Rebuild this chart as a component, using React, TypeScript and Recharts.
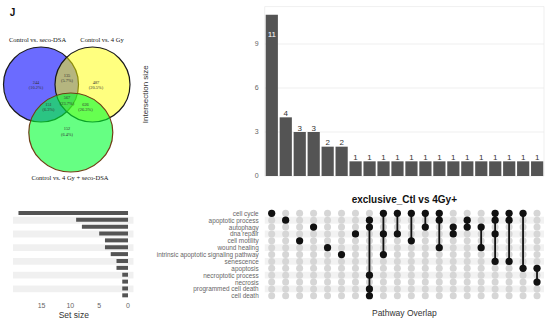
import React from 'react';
import {
  ScatterChart,
  Scatter,
  XAxis,
  YAxis,
  BarChart,
  Bar,
  CartesianGrid,
  LabelList,
  ReferenceArea,
} from 'recharts';

// ---- data ----
const pathways = [
  'cell cycle',
  'apoptotic process',
  'autophagy',
  'dna repair',
  'cell motility',
  'wound healing',
  'intrinsic apoptotic signaling pathway',
  'senescence',
  'apoptosis',
  'necroptotic process',
  'necrosis',
  'programmed cell death',
  'cell death',
];
const setSizes = [19, 9, 8, 5, 4, 4, 3, 2, 2, 1, 1, 1, 1];

const intersectionSizes = [11, 4, 3, 3, 2, 2, 1, 1, 1, 1, 1, 1, 1, 1, 1, 1, 1, 1, 1, 1];
const intersectionMembers = [
  ['cell cycle'],
  ['apoptotic process'],
  ['cell motility'],
  ['autophagy'],
  ['wound healing'],
  ['intrinsic apoptotic signaling pathway'],
  ['dna repair'],
  ['apoptotic process', 'autophagy', 'necroptotic process', 'programmed cell death', 'cell death'],
  ['cell cycle', 'dna repair', 'intrinsic apoptotic signaling pathway'],
  ['cell cycle', 'dna repair'],
  ['cell cycle', 'cell motility'],
  ['cell cycle', 'autophagy'],
  ['cell cycle', 'apoptotic process', 'wound healing'],
  ['autophagy', 'dna repair'],
  ['apoptotic process', 'autophagy'],
  ['autophagy', 'wound healing'],
  ['cell cycle', 'apoptotic process', 'dna repair', 'senescence'],
  ['cell cycle', 'apoptotic process', 'senescence'],
  ['cell cycle', 'apoptosis'],
  ['apoptosis', 'necrosis'],
];

const vennSetNames = ['Control vs. seco-DSA', 'Control vs. 4 Gy', 'Control vs. 4 Gy + seco-DSA'];
const vennCounts = [244, 135, 487, 151, 567, 626, 152];
const vennPercents = ['10.2%', '5.7%', '20.5%', '6.3%', '23.7%', '26.3%', '6.4%'];

// ---- layout (venn box is 140x190, 1 unit = 1px) ----
const vennShapes = [
  { x: 41, y: 84.5, rx: 37.5, ry: 37.5, fill: '#0000ff', opacity: 0.58, stroke: '#1a1a1a' },
  { x: 92.5, y: 84.5, rx: 37.5, ry: 37.5, fill: '#ffff00', opacity: 0.5, stroke: '#1a1a1a' },
  { x: 70.8, y: 132.5, rx: 42, ry: 39.5, fill: '#00ff30', opacity: 0.6, stroke: '#6e3f16' },
];
const vennRegionPos = [
  { x: 36, y: 84.5 },
  { x: 67, y: 77.5 },
  { x: 96, y: 84.5 },
  { x: 48.5, y: 106.5 },
  { x: 67, y: 100 },
  { x: 85.5, y: 106.5 },
  { x: 67, y: 131 },
];
const vennNamePos = [
  { x: 37.5, y: 41.5 },
  { x: 102, y: 41.5 },
  { x: 70, y: 179.5 },
];

const SANS = '"Liberation Sans", Arial, sans-serif';
const SERIF = '"Liberation Serif", "Times New Roman", serif';

const barData = intersectionSizes.map((size, i) => ({ id: i + 1, size }));
const setData = pathways.map((name, i) => ({ name, size: setSizes[i] }));

const gridCells: { col: number; row: number }[] = [];
intersectionMembers.forEach((_, c) => {
  pathways.forEach((_, r) => gridCells.push({ col: c + 1, row: r + 1 }));
});
const activeByColumn = intersectionMembers.map((members, c) =>
  members
    .map((m) => ({ col: c + 1, row: pathways.indexOf(m) + 1 }))
    .sort((a, b) => a.row - b.row)
);
const stripeRows = pathways.map((_, i) => i + 1).filter((r) => r % 2 === 0);

const BarValueLabel = (props: any) => {
  const { x, y, width, value } = props;
  const inside = value >= 10;
  return (
    <text
      x={x + width / 2}
      y={inside ? y + 22 : y - 1.5}
      textAnchor="middle"
      fontSize={8}
      fontFamily={SANS}
      fill={inside ? '#fff' : '#333'}
    >
      {value}
    </text>
  );
};

const PathwayTick = (p: any) => (
  <text
    x={p.x}
    y={p.y}
    textAnchor="end"
    dominantBaseline="central"
    fontSize={6.4}
    fontFamily={SANS}
    fill="#666"
  >
    {pathways[p.payload.value - 1]}
  </text>
);

export default function App() {
  return (
    <div
      style={{
        position: 'absolute',
        left: 0,
        top: 0,
        width: 550,
        height: 323,
        background: '#fff',
        overflow: 'hidden',
      }}
    >
      {/* venn diagram */}
      <div style={{ position: 'absolute', left: 0, top: 0 }}>
        <ScatterChart width={140} height={190} margin={{ top: 0, right: 0, bottom: 0, left: 0 }}>
          <XAxis type="number" dataKey="x" domain={[0, 140]} hide />
          <YAxis type="number" dataKey="y" domain={[0, 190]} reversed hide />
          <Scatter
            data={vennShapes}
            isAnimationActive={false}
            shape={(p: any) => (
              <ellipse
                cx={p.cx}
                cy={p.cy}
                rx={p.payload.rx}
                ry={p.payload.ry}
                fill={p.payload.fill}
                fillOpacity={p.payload.opacity}
                stroke={p.payload.stroke}
                strokeWidth={1.2}
              />
            )}
          />
          <Scatter
            data={vennRegionPos.map((pos, i) => ({ ...pos, count: vennCounts[i], pct: vennPercents[i] }))}
            isAnimationActive={false}
            shape={(p: any) => (
              <text textAnchor="middle" fontSize={4.4} fontFamily={SERIF} fill="#333">
                <tspan x={p.cx} y={p.cy - 1}>{p.payload.count}</tspan>
                <tspan x={p.cx} y={p.cy + 4.6}>({p.payload.pct})</tspan>
              </text>
            )}
          />
          <Scatter
            data={vennNamePos.map((pos, i) => ({ ...pos, name: vennSetNames[i] }))}
            isAnimationActive={false}
            shape={(p: any) => (
              <text x={p.cx} y={p.cy} textAnchor="middle" fontSize={6.5} fontFamily={SERIF} fill="#111">
                {p.payload.name}
              </text>
            )}
          />
          <Scatter
            data={[{ x: 12.5, y: 16 }]}
            isAnimationActive={false}
            shape={(p: any) => (
              <text x={p.cx} y={p.cy} textAnchor="middle" fontSize={10} fontWeight="bold" fontFamily={SANS} fill="#111">
                J
              </text>
            )}
          />
        </ScatterChart>
      </div>

      {/* intersection size bars */}
      <div style={{ position: 'absolute', left: 136, top: 0 }}>
        <BarChart
          width={414}
          height={180}
          data={barData}
          margin={{ top: 6.6, right: 6, bottom: 4, left: 0 }}
        >
          <CartesianGrid stroke="#ebebeb" strokeWidth={0.8} />
          <XAxis dataKey="id" type="category" tick={false} axisLine={false} tickLine={false} height={0} />
          <YAxis
            type="number"
            domain={[0, 11.55]}
            ticks={[0, 3, 6, 9]}
            width={128.7}
            axisLine={false}
            tickLine={false}
            tickSize={0}
            tickMargin={6}
            tick={{ fontSize: 7, fill: '#666', fontFamily: SANS }}
            label={{
              content: (p: any) => {
                const vb = p.viewBox;
                const x = vb.x + 10;
                const y = vb.y + vb.height / 2 + 3;
                return (
                  <text
                    x={x}
                    y={y}
                    transform={`rotate(-90, ${x}, ${y})`}
                    textAnchor="middle"
                    dominantBaseline="central"
                    fontSize={8}
                    fontFamily={SANS}
                    fill="#333"
                  >
                    Intersection size
                  </text>
                );
              },
            }}
          />
          <Bar dataKey="size" fill="#545454" barSize={12.2} isAnimationActive={false}>
            <LabelList dataKey="size" content={BarValueLabel} />
          </Bar>
        </BarChart>
      </div>

      {/* set size bars */}
      <div style={{ position: 'absolute', left: 0, top: 180 }}>
        <BarChart
          width={140}
          height={143}
          data={setData}
          layout="vertical"
          margin={{ top: 29.9, right: 6.5, bottom: 0, left: 13 }}
        >
          {stripeRows.map((r) => (
            <ReferenceArea
              key={r}
              y1={pathways[r - 1]}
              y2={pathways[r - 1]}
              fill="#000"
              fillOpacity={0.06}
              stroke="none"
            />
          ))}
          <XAxis
            type="number"
            reversed
            domain={[-0.95, 19.95]}
            ticks={[0, 5, 10, 15]}
            height={23.8}
            axisLine={false}
            tickLine={false}
            tickSize={0}
            tickMargin={4}
            tick={{ fontSize: 7, fill: '#666', fontFamily: SANS }}
            label={{
              content: (p: any) => {
                const vb = p.viewBox;
                return (
                  <text x={vb.x + vb.width / 2 + 0.5} y={vb.y + 19} textAnchor="middle" fontSize={8.5} fontFamily={SANS} fill="#333">
                    Set size
                  </text>
                );
              },
            }}
          />
          <YAxis type="category" dataKey="name" hide />
          <Bar dataKey="size" fill="#545454" barSize={4} isAnimationActive={false} />
        </BarChart>
      </div>

      {/* matrix */}
      <div style={{ position: 'absolute', left: 136, top: 180 }}>
        <ScatterChart width={414} height={143} margin={{ top: 0, right: 6, bottom: 0, left: 0 }}>
          {stripeRows.map((r) => (
            <ReferenceArea key={r} y1={r - 0.5} y2={r + 0.5} fill="#000" fillOpacity={0.05} stroke="none" />
          ))}
          <XAxis
            type="number"
            dataKey="col"
            domain={[0.5, 20.5]}
            height={23.8}
            tick={false}
            axisLine={false}
            tickLine={false}
            label={{
              content: (p: any) => {
                const vb = p.viewBox;
                return (
                  <text x={vb.x + vb.width / 2} y={vb.y + 17} textAnchor="middle" fontSize={8.5} fontFamily={SANS} fill="#333">
                    Pathway Overlap
                  </text>
                );
              },
            }}
          />
          <XAxis
            xAxisId="top"
            orientation="top"
            type="number"
            domain={[0.5, 20.5]}
            height={29.9}
            tick={false}
            axisLine={false}
            tickLine={false}
            label={{
              content: (p: any) => {
                const vb = p.viewBox;
                return (
                  <text
                    x={vb.x + vb.width / 2}
                    y={vb.y + 23}
                    textAnchor="middle"
                    fontSize={10}
                    fontWeight="bold"
                    fontFamily={SANS}
                    fill="#111"
                  >
                    exclusive_Ctl vs 4Gy+
                  </text>
                );
              },
            }}
          />
          <YAxis
            type="number"
            dataKey="row"
            domain={[0.5, 13.5]}
            reversed
            ticks={pathways.map((_, i) => i + 1)}
            interval={0}
            width={128.7}
            axisLine={false}
            tickLine={false}
            tickSize={0}
            tickMargin={6}
            tick={PathwayTick}
          />
          <Scatter
            data={gridCells}
            isAnimationActive={false}
            shape={(p: any) => <circle cx={p.cx} cy={p.cy} r={3.5} fill="#d6d6d6" />}
          />
          {activeByColumn.map((pts, c) => (
            <Scatter
              key={c}
              data={pts}
              fill="#111"
              line={pts.length > 1 ? { stroke: '#111', strokeWidth: 1.8 } : false}
              isAnimationActive={false}
              shape={(p: any) => <circle cx={p.cx} cy={p.cy} r={3.6} fill="#111" />}
            />
          ))}
        </ScatterChart>
      </div>
    </div>
  );
}
